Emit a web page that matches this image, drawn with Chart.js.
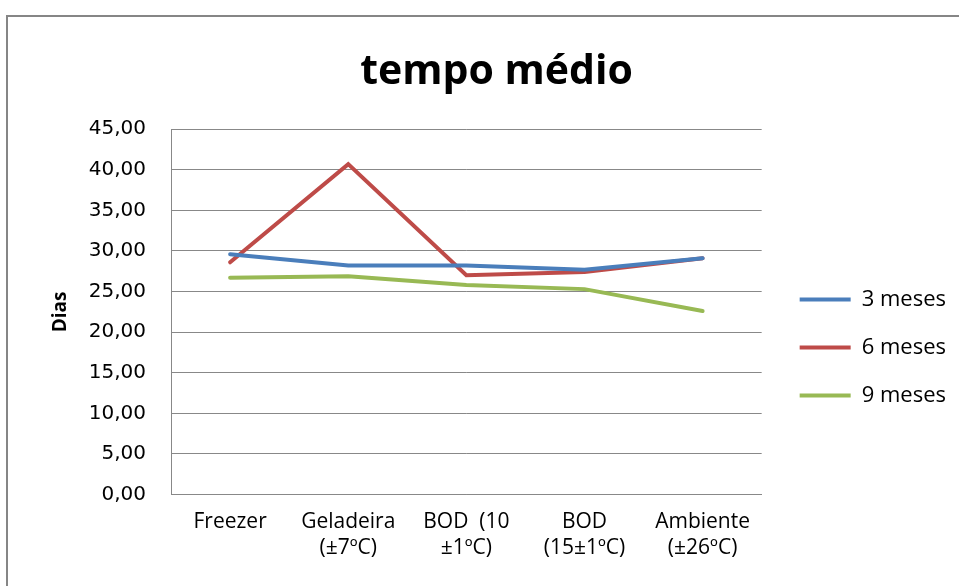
<!DOCTYPE html>
<html>
<head>
<meta charset="utf-8">
<script src="https://cdn.jsdelivr.net/npm/chart.js@4.4.1/dist/chart.umd.min.js"></script>
<style>
  html, body { margin: 0; padding: 0; background: #fff; overflow: hidden; }
  #wrap { position: relative; width: 959px; height: 586px; }
  #frame { position: absolute; left: 6px; top: 15px; width: 1000px; height: 1000px; border: 2px solid #868686; box-sizing: border-box; }
  canvas { position: absolute; left: 0; top: 0; }
</style>
</head>
<body>
<div id="wrap">
  <div id="frame"></div>
  <canvas id="tempoChart" width="959" height="586"></canvas>
</div>
<script>
const categories = [["Freezer"], ["Geladeira", "(±7ºC)"], ["BOD  (10", "±1ºC)"], ["BOD", "(15±1ºC)"], ["Ambiente", "(±26ºC)"]];
const seriesNames = ["3 meses", "6 meses", "9 meses"];
const meses3 = [29.6, 28.2, 28.2, 27.7, 29.1];
const meses6 = [28.6, 40.7, 27.0, 27.4, 29.1];
const meses9 = [26.7, 26.9, 25.8, 25.3, 22.6];
const yMin = 0;
const yMax = 45;
const yStep = 5;

// moves the legend a bit right and down, like the original
const legendShift = {
  id: "legendShift",
  afterLayout(chart) {
    const lg = chart.legend;
    lg.left += 12;
    lg.right += 12;
    lg.top += 64;
    lg.bottom += 64;
  },
};

function makeLine(label, data, color) {
  return {
    label: label,
    data: data,
    borderColor: color,
    backgroundColor: color,
    borderWidth: 4,
    borderCapStyle: "round",
    pointRadius: 0,
    pointHoverRadius: 0,
    tension: 0,
    fill: false,
  };
}

const ctx = document.getElementById("tempoChart").getContext("2d");
new Chart(ctx, {
  type: "line",
  data: {
    labels: categories,
    datasets: [
      makeLine(seriesNames[0], meses3, "#4a7ebb"),
      makeLine(seriesNames[1], meses6, "#be4b48"),
      makeLine(seriesNames[2], meses9, "#98b954"),
    ],
  },
  plugins: [legendShift],
  options: {
    responsive: false,
    animation: false,
    layout: {
      padding: { left: 49, right: 15, top: 0, bottom: 19 },
    },
    plugins: {
      title: {
        display: true,
        text: "tempo médio",
        color: "#000",
        font: { family: "Open Sans", size: 41, weight: "bold" },
        padding: { top: 48, bottom: 32 },
      },
      legend: {
        position: "right",
        labels: {
          usePointStyle: true,
          pointStyle: "line",
          pointStyleWidth: 51,
          padding: 26,
          color: "#000",
          font: { family: "Open Sans", size: 22 },
        },
      },
      tooltip: { enabled: false },
    },
    scales: {
      x: {
        offset: true,
        grid: { display: false },
        border: { display: true, color: "#888", width: 1 },
        ticks: {
          color: "#000",
          padding: 6,
          maxRotation: 0,
          autoSkip: false,
          font: { family: "Open Sans", size: 21, lineHeight: 1.25 },
        },
      },
      y: {
        min: yMin,
        max: yMax,
        afterFit: (scale) => {
          scale.width -= 8;
        },
        grid: { color: "#888", lineWidth: 1, drawTicks: false },
        border: { display: true, color: "#888", width: 1 },
        ticks: {
          stepSize: yStep,
          padding: 25,
          color: "#000",
          font: { family: "DejaVu Sans", size: 20 },
          callback: (v) => v.toFixed(2).replace(".", ","),
        },
        title: {
          display: true,
          text: "Dias",
          color: "#000",
          font: { family: "Open Sans", size: 19, weight: "bold" },
          padding: { top: 0, bottom: 0 },
        },
      },
    },
  },
});
</script>
</body>
</html>
